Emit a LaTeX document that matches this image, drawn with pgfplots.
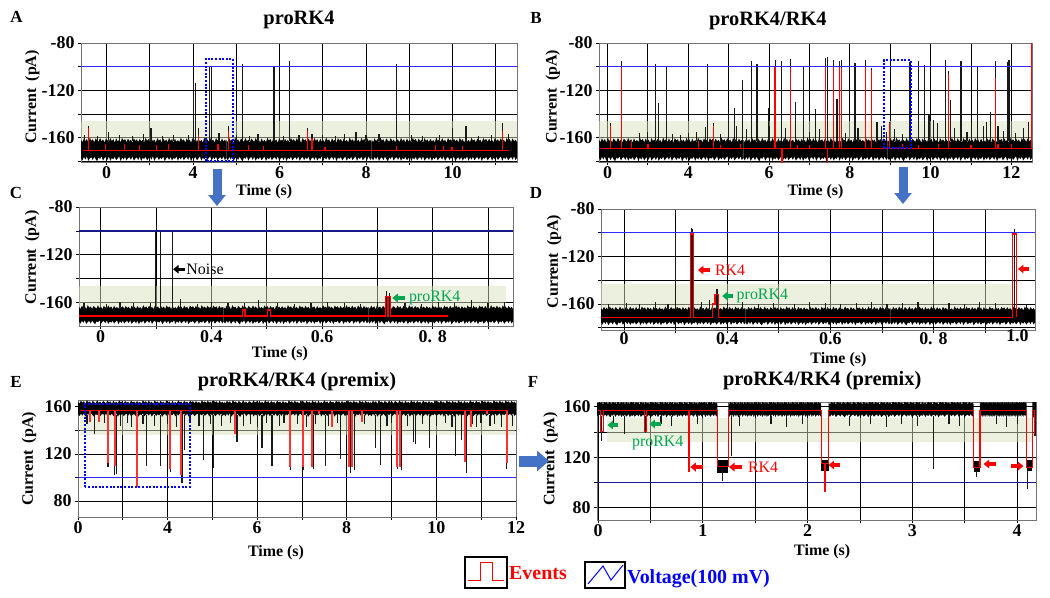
\documentclass[border=0pt]{standalone}
\usepackage{fontspec}
\setmainfont{Liberation Serif}
\usepackage{pgfplots}
\pgfplotsset{compat=1.18}
\usepackage{pgfplotstable}
\usetikzlibrary{arrows.meta}

\definecolor{evred}{RGB}{255,0,0}
\definecolor{vblue}{RGB}{45,45,255}
\definecolor{vnavy}{RGB}{25,25,140}
\definecolor{gband}{RGB}{215,227,189}
\definecolor{agreen}{RGB}{0,166,80}
\definecolor{arrblue}{RGB}{68,114,196}

% envelope of the baseline noise: upper edge left->right, then lower edge right->left
\pgfplotstableread{
i d
0 .82
1 .61
2 .95
3 .70
4 .88
5 .57
6 1.0
7 .73
8 .86
9 .60
10 .93
11 .76
12 .65
13 .98
14 .69
15 .84
16 .59
17 .91
18 .78
19 .64
20 .97
21 .71
22 .87
23 .58
24 .94
25 .67
26 .81
27 .62
28 .99
29 .74
30 .89
31 .60
32 .92
33 .70
34 .83
35 .56
36 .96
37 .72
38 .85
39 .63
40 .90
41 .68
42 .80
43 .59
44 1.0
45 .73
46 .88
47 .64
48 .95
49 .70
50 .82
51 .57
52 .97
53 .75
54 .86
55 .61
56 .93
57 .69
58 .84
59 .60
60 .98
61 .72
62 .87
63 .58
64 .91
65 .66
66 .79
67 .62
68 .99
69 .74
70 .85
71 .59
72 .94
73 .71
74 .83
75 .57
76 .96
77 .76
78 .89
79 .63
80 .92
81 .68
82 .81
83 .60
84 1.0
85 .73
86 .86
87 .65
88 .95
89 .70
90 .84
91 .58
92 .97
93 .74
94 .88
95 .62
96 .93
97 .69
98 .82
99 .61
99 -.70
98 -.90
97 -.57
96 -.86
95 -.64
94 -.74
93 -.93
92 -.61
91 -.81
90 -.66
89 -.97
88 -.58
87 -.72
86 -.89
85 -.62
84 -.83
83 -.69
82 -.95
81 -.59
80 -.75
79 -.92
78 -.63
77 -.78
76 -.70
75 -.99
74 -.60
73 -.87
72 -.64
71 -.73
70 -.91
69 -.61
68 -.85
67 -.67
66 -.96
65 -.58
64 -.80
63 -.71
62 -.94
61 -.62
60 -.88
59 -.65
58 -.76
57 -1.0
56 -.59
55 -.82
54 -.68
53 -.90
52 -.63
51 -.72
50 -.97
49 -.57
48 -.86
47 -.64
46 -.74
45 -.93
44 -.60
43 -.81
42 -.70
41 -.98
40 -.61
39 -.89
38 -.66
37 -.77
36 -.95
35 -.58
34 -.87
33 -.65
32 -.73
31 -.92
30 -.62
29 -.84
28 -.69
27 -.99
26 -.59
25 -.75
24 -.91
23 -.63
22 -.83
21 -.71
20 -.96
19 -.60
18 -.88
17 -.64
16 -.72
15 -.94
14 -.57
13 -.79
12 -.68
11 -1.0
10 -.82
9 -.61
8 -.90
7 -.66
6 -.74
5 -.97
4 -.58
3 -.85
2 -.62
1 -.93
0 -.70
}\noise

\pgfplotsset{
  panel/.style={
    scale only axis, clip=true, anchor=north west,
    axis line style={draw=black!55, line width=1bp},
    grid=major, grid style={black, line width=0.8bp},
    tick align=outside, tick pos=left, major tick length=3bp,
    tick style={black, line width=0.8bp},
    tick label style={font=\bfseries\fontsize{18}{18}\selectfont},
    xticklabel style={yshift=1.5bp},
    label style={font=\bfseries\fontsize{16}{16}\selectfont},
    title style={font=\bfseries\fontsize{20.5}{20.5}\selectfont},
    ylabel={Current\hspace{0.45em}(pA)},
    xlabel={Time\ (s)},
  },
  noiseband/.style={fill=black, draw=none, forget plot},
  spk/.style={black!90, line width=1.2bp, mark=none, forget plot},
  spkred/.style={evred, line width=1.3bp, mark=none, forget plot},
}
\tikzset{fatarrow/.style={line width=3.2bp, -{Triangle[width=8.5bp,length=5.5bp]}}}

\begin{document}
\begin{tikzpicture}
\path[use as bounding box] (0,0) rectangle (1050bp,-598bp);

% ================= A =================
\begin{axis}[panel, at={(81bp,-43bp)}, width=436bp, height=119bp,
  xmin=-0.59, xmax=9.49, ymin=-180.6, ymax=-80,
  xtick={0,...,9}, xticklabels={0,,4,,6,,8,,10,},
  ytick={-180,-160,...,-80}, yticklabels={,-160,,-120,,-80},
  title={proRK4}, title style={at={(axis description cs:0.5,1.109)}, anchor=base},
  xlabel style={at={(axis description cs:0.42,-0.28)}, anchor=base},
  ylabel style={at={(axis description cs:-0.112,0.546)}, anchor=center}]
\addplot[fill=gband, fill opacity=0.5, draw=none] coordinates {(-0.59,-165)(9.49,-165)(9.49,-145.6)(-0.59,-145.6)};
\addplot[noiseband] table[x expr=-0.59+\thisrow{i}*0.033939, y expr=-170+10*\thisrow{d}] {\noise};
\addplot[noiseband] table[x expr=2.77+\thisrow{i}*0.033939, y expr=-170+10*\thisrow{d}] {\noise};
\addplot[noiseband] table[x expr=6.13+\thisrow{i}*0.033939, y expr=-170+10*\thisrow{d}] {\noise};
\addplot[spk, quiver={u=0, v={\thisrow{p}+163}}] table[x=x, y expr=-163] {
x p
-0.41 -150
-0.5 -158
-0.2 -159
0.04 -155
0.3 -158
0.6 -159
0.85 -157
1.03 -152
1.3 -159
1.55 -158
1.89 -158
2.01 -111
2.06 -114
2.13 -152
2.38 -100
2.42 -100
2.6 -156
2.82 -150
3.0 -158
3.14 -98
3.3 -159
3.5 -157
3.87 -100
4.1 -159
4.23 -95
4.45 -158
4.65 -152
4.75 -157
5.0 -158
5.3 -159
5.5 -157
5.77 -155
6.0 -158
6.3 -157
6.70 -98
7.05 -158
7.3 -159
7.7 -158
8.00 -152
8.31 -150
8.6 -159
8.9 -158
9.15 -148
9.3 -157
};
\addplot[vblue, line width=1bp] coordinates {(-0.59,-100)(9.49,-100)};
\addplot[evred, line width=1bp] coordinates {(-0.55,-170.5)(9.30,-170.5)};
\addplot[spkred, quiver={u=0, v={\thisrow{p}+170.5}}] table[x=x, y expr=-170.5] {
x p
-0.41 -152
-0.02 -165
0.42 -165
0.77 -166
1.16 -166
1.43 -165
2.12 -158
2.58 -165
2.82 -154
3.28 -166
3.63 -167
4.65 -154
4.75 -160
5.05 -168
6.71 -167
7.60 -166
7.79 -167
7.99 -168
8.23 -167
9.15 -154
};
\addplot[blue, line width=2bp, dash pattern=on 2bp off 1.6bp] coordinates {(2.29,-179.9)(2.29,-93.6)(2.92,-93.6)(2.92,-179.9)(2.29,-179.9)};
\end{axis}

% ================= B =================
\begin{axis}[panel, at={(599bp,-43bp)}, width=433bp, height=119bp,
  xmin=-0.21, xmax=10.51, ymin=-180.6, ymax=-80,
  xtick={0,...,10}, xticklabels={0,,4,,6,,8,,10,,12},
  ytick={-180,-160,...,-80}, yticklabels={,-160,,-120,,-80},
  title={proRK4/RK4}, title style={at={(axis description cs:0.39,1.1)}, anchor=base},
  xlabel style={at={(axis description cs:0.50,-0.28)}, anchor=base},
  ylabel style={at={(axis description cs:-0.107,0.549)}, anchor=center}]
\addplot[fill=gband, fill opacity=0.5, draw=none] coordinates {(-0.21,-165)(10.51,-165)(10.51,-145.6)(-0.21,-145.6)};
\addplot[noiseband] table[x expr=-0.21+\thisrow{i}*0.036094, y expr=-170+10*\thisrow{d}] {\noise};
\addplot[noiseband] table[x expr=3.3633+\thisrow{i}*0.036094, y expr=-170+10*\thisrow{d}] {\noise};
\addplot[noiseband] table[x expr=6.9367+\thisrow{i}*0.036094, y expr=-170+10*\thisrow{d}] {\noise};
\addplot[spk, quiver={u=0, v={\thisrow{p}+163}}] table[x=x, y expr=-163] {
x p
0.07 -148
0.34 -95
0.8 -156
1.0 -155
1.19 -97.5
1.26 -130.6
1.46 -100
1.6 -157
1.8 -158
2.0 -156
2.2 -155
2.42 -150.6
2.47 -97.5
2.62 -148
2.8 -157
2.99 -138
3.14 -134.6
3.2 -150
3.35 -111
3.45 -153
3.56 -95.6
3.70 -98
3.98 -135
4.0 -150
4.15 -94
4.30 -95.6
4.4 -152
4.53 -93.6
4.66 -129.5
4.85 -99.8
5.0 -155
5.14 -136
5.25 -153
5.39 -93
5.45 -92
5.59 -94
5.68 -127
5.74 -95
5.80 -94
5.9 -156
6.13 -97
6.2 -152
6.38 -94
6.53 -101
6.67 -147
6.78 -150
6.9 -155
6.99 -147
7.1 -153
7.3 -157
7.49 -96
7.70 -95
7.85 -99
7.96 -140
8.07 -145
8.18 -148
8.36 -94
8.44 -104
8.49 -128
8.6 -152
8.75 -95
8.9 -155
9.02 -146
9.17 -100
9.3 -150
9.39 -147
9.49 -138
9.61 -95
9.67 -150
9.8 -154
9.90 -96
9.94 -94
10.1 -156
10.3 -152
10.42 -147
};
\addplot[vblue, line width=1bp] coordinates {(-0.21,-100)(10.51,-100)};
\addplot[evred, line width=1bp] coordinates {(-0.2,-169)(10.5,-169)};
\addplot[spkred, quiver={u=0, v={\thisrow{p}+169}}] table[x=x, y expr=-169] {
x p
0.07 -150
0.34 -100
0.59 -163
1.0 -165
2.25 -163
2.62 -150
2.8 -166
3.3 -165
4.15 -100
4.32 -182
4.53 -100
4.7 -166
5.0 -166
5.39 -100
5.45 -182
5.59 -100
5.74 -100
5.80 -100
6.38 -100
6.53 -103
6.99 -148
7.3 -165
7.7 -166
8.2 -165
8.44 -106
9.0 -166
9.61 -110
9.67 -165
10.0 -165
10.50 -80
};
\addplot[blue, line width=2bp, dash pattern=on 2bp off 1.6bp] coordinates {(6.85,-169)(6.85,-94.7)(7.51,-94.7)(7.51,-169)(6.85,-169)};
\end{axis}

% ================= C =================
\begin{axis}[panel, at={(79bp,-207bp)}, width=434bp, height=119bp,
  xmin=-0.39, xmax=7.45, ymin=-179.4, ymax=-80,
  xtick={0,...,7}, xticklabels={0,,0.4,,0.6,,0. 8,},
  ytick={-180,-160,...,-80}, yticklabels={,-160,,-120,,-80},
  xlabel style={at={(axis description cs:0.463,-0.265)}, anchor=base},
  ylabel style={at={(axis description cs:-0.108,0.576)}, anchor=center}]
\addplot[fill=gband, fill opacity=0.5, draw=none] coordinates {(-0.39,-165)(7.33,-165)(7.33,-146)(-0.39,-146)};
\addplot[noiseband] table[x expr=-0.39+\thisrow{i}*0.026397, y expr=-170+8*\thisrow{d}] {\noise};
\addplot[noiseband] table[x expr=2.2233+\thisrow{i}*0.026397, y expr=-170+8*\thisrow{d}] {\noise};
\addplot[noiseband] table[x expr=4.8367+\thisrow{i}*0.026397, y expr=-170+8*\thisrow{d}] {\noise};
\addplot[spk, quiver={u=0, v={\thisrow{p}+165}}] table[x=x, y expr=-165] {
x p
-0.3 -160
0.1 -161
0.35 -159
0.6 -160
0.9 -160
0.99 -100
1.08 -100
1.30 -100
1.45 -157
1.75 -161
2.0 -159
2.3 -160
2.6 -160
2.85 -158
3.2 -160
3.5 -161
3.8 -160
4.1 -159
4.4 -160
4.7 -161
5.0 -159
5.17 -150
5.22 -152
5.5 -160
5.8 -161
6.1 -159
6.4 -160
6.7 -158
7.0 -160
7.3 -159
};
\addplot[vnavy, line width=1.2bp] coordinates {(-0.39,-100)(7.45,-100)};
\addplot[evred, line width=1.2bp] coordinates {(-0.39,-171)(2.57,-171)(2.57,-166)(2.61,-166)(2.61,-171)(3.02,-171)(3.02,-166)(3.07,-166)(3.07,-171)(5.15,-171)(5.15,-155)(5.18,-155)(5.18,-171)(5.20,-171)(5.20,-155)(5.24,-155)(5.24,-171)(6.28,-171)};
\draw[fatarrow, black] (axis cs:1.52,-132) -- (axis cs:1.31,-132);
\node[anchor=west, font=\fontsize{16}{16}\selectfont, inner sep=1bp] at (axis cs:1.53,-132) {Noise};
\draw[fatarrow, agreen] (axis cs:5.49,-156) -- (axis cs:5.27,-156);
\node[anchor=west, font=\fontsize{16}{16}\selectfont, text=agreen, inner sep=1bp] at (axis cs:5.55,-156) {proRK4};
\end{axis}

% ================= D =================
\begin{axis}[panel, at={(601bp,-209bp)}, width=434bp, height=121bp,
  xmin=-0.45, xmax=7.97, ymin=-181.9, ymax=-80,
  xtick={0,...,7}, xticklabels={0,,0.4,,0.6,,0. 8,},
  xticklabel style={yshift=2.5bp},
  extra x ticks={7.63}, extra x tick labels={1.0}, extra x tick style={grid=none, major tick length=0bp},
  ytick={-180,-160,...,-80}, yticklabels={,-160,,-120,,-80},
  xlabel style={at={(axis description cs:0.547,-0.275)}, anchor=base},
  ylabel style={at={(axis description cs:-0.108,0.566)}, anchor=center}]
\addplot[fill=gband, fill opacity=0.5, draw=none] coordinates {(-0.45,-165)(7.55,-165)(7.55,-143.5)(-0.45,-143.5)};
\addplot[noiseband] table[x expr=-0.45+\thisrow{i}*0.028350, y expr=-170+8*\thisrow{d}] {\noise};
\addplot[noiseband] table[x expr=2.3567+\thisrow{i}*0.028350, y expr=-170+8*\thisrow{d}] {\noise};
\addplot[noiseband] table[x expr=5.1633+\thisrow{i}*0.028350, y expr=-170+8*\thisrow{d}] {\noise};
\addplot[spk, quiver={u=0, v={\thisrow{p}+165}}] table[x=x, y expr=-165] {
x p
-0.3 -160
0.05 -159
0.3 -160
0.6 -158
0.85 -160
1.0 -98.5
1.31 -96
1.33 -97
1.5 -158
1.65 -157
1.80 -147
2.0 -159
2.3 -158
2.6 -160
2.9 -159
3.3 -160
3.6 -158
3.9 -159
4.2 -160
4.5 -159
4.8 -158
5.1 -160
5.4 -159
5.7 -158
6.0 -160
6.3 -159
6.6 -160
6.9 -158
7.2 -159
7.57 -97
7.8 -160
};
\addplot[vblue, line width=1bp] coordinates {(-0.45,-100)(7.97,-100)};
\addplot[evred, line width=1.2bp] coordinates {(-0.45,-171.3)(1.28,-171.3)(1.28,-101)(1.345,-101)(1.345,-171.3)(1.72,-171.3)(1.72,-160)(1.76,-160)(1.76,-152)(1.83,-152)(1.83,-171.3)(7.53,-171.3)(7.53,-101)(7.61,-101)(7.61,-171.3)};
\draw[fatarrow, evred] (axis cs:1.67,-131.4) -- (axis cs:1.43,-131.4);
\node[anchor=west, font=\fontsize{16}{16}\selectfont, text=evred, inner sep=1bp] at (axis cs:1.74,-131.4) {RK4};
\draw[fatarrow, agreen] (axis cs:2.11,-153.3) -- (axis cs:1.90,-153.3);
\node[anchor=west, font=\fontsize{16}{16}\selectfont, text=agreen, inner sep=1bp] at (axis cs:2.16,-153.3) {proRK4};
\draw[fatarrow, evred] (axis cs:7.85,-130.5) -- (axis cs:7.64,-130.5);
\end{axis}

% ================= E =================
\begin{axis}[panel, at={(78bp,-400bp)}, width=438bp, height=117bp,
  xmin=0, xmax=9.78, ymin=66.5, ymax=165.7,
  xtick={0,...,9}, xticklabels={0,,4,,6,,8,,10,},
  extra x ticks={9.78}, extra x tick labels={12}, extra x tick style={grid=none},
  ytick={80,100,...,160}, yticklabels={80,,120,,160},
  title={proRK4/RK4 (premix)}, title style={at={(axis description cs:0.5,1.068)}, anchor=base},
  xlabel style={at={(axis description cs:0.452,-0.34)}, anchor=base},
  ylabel style={at={(axis description cs:-0.112,0.496)}, anchor=center}]
\addplot[fill=gband, fill opacity=0.5, draw=none] coordinates {(0.05,136)(9.75,136)(9.75,155)(0.05,155)};
\addplot[noiseband] table[x expr=\thisrow{i}*0.032929, y expr=158.5+7*\thisrow{d}] {\noise};
\addplot[noiseband] table[x expr=3.26+\thisrow{i}*0.032929, y expr=158.5+7*\thisrow{d}] {\noise};
\addplot[noiseband] table[x expr=6.52+\thisrow{i}*0.032929, y expr=158.5+7*\thisrow{d}] {\noise};
\addplot[spk, quiver={u=0, v={\thisrow{p}-153}}] table[x=x, y expr=153] {
x p
0.2 145
0.36 137
0.6 146
0.67 109
0.82 102
0.86 103
0.95 144
1.1 146
1.2 143
1.33 108
1.45 145
1.53 110
1.7 144
1.84 110
2.0 145
2.06 105
2.2 143
2.32 95
2.37 123
2.5 146
2.7 144
2.81 115
2.95 145
3.03 108
3.2 144
3.4 146
3.55 130
3.7 144
3.85 145
4.0 143
4.11 125
4.2 146
4.33 110
4.5 144
4.6 146
4.74 106
4.9 145
5.04 106
5.1 143
5.26 107
5.3 145
5.52 110
5.6 144
5.8 146
5.86 116
6.08 104
6.18 106
6.4 145
6.65 125
6.75 111
6.9 144
7.0 146
7.14 107
7.23 106
7.35 144
7.49 130
7.54 128
7.7 145
7.85 125
8.0 144
8.2 146
8.35 143
8.42 118
8.57 132
8.68 104
8.8 145
8.9 143
9.0 146
9.2 144
9.3 145
9.45 143
9.57 107
9.7 144
};
\addplot[vblue, line width=1bp] coordinates {(0,100)(9.78,100)};
\addplot[evred, line width=1bp] coordinates {(0.05,156.5)(9.6,156.5)};
\addplot[spkred, evred!80, line width=2bp, quiver={u=0, v={\thisrow{p}-156.5}}] table[x=x, y expr=156.5] {
x p
0.26 147
0.48 147
0.67 112
0.83 110
1.32 92
2.06 107
2.31 102
3.51 137
4.74 108.5
5.02 108.5
5.22 108.5
5.39 154
5.67 143
6.04 108.5
6.12 109
6.34 147
7.12 108.5
7.20 108.5
8.65 113
8.77 143
9.13 154
9.58 112.5
};
\addplot[blue, line width=2bp, dash pattern=on 2bp off 1.6bp] coordinates {(0.15,91.7)(0.15,162.3)(2.49,162.3)(2.49,91.7)(0.15,91.7)};
\end{axis}

% ================= F =================
\begin{axis}[panel, at={(597bp,-402bp)}, width=439bp, height=118bp,
  xmin=-0.01, xmax=4.18, ymin=70.3, ymax=163.7,
  xtick={0,0.5,...,4}, xticklabels={0,,1,,2,,3,,4},
  ytick={80,100,...,160}, yticklabels={80,,120,,160},
  title={proRK4/RK4 (premix)}, title style={at={(axis description cs:0.513,1.085)}, anchor=base},
  xlabel style={at={(axis description cs:0.513,-0.297)}, anchor=base},
  ylabel style={at={(axis description cs:-0.106,0.517)}, anchor=center}]
\addplot[fill=gband, fill opacity=0.5, draw=none] coordinates {(0.09,132.3)(4.15,132.3)(4.15,150.8)(0.09,150.8)};
\addplot[noiseband] table[x expr=-0.01+\thisrow{i}*0.011616, y expr=158+6.5*\thisrow{d}] {\noise};
\addplot[noiseband] table[x expr=1.245+\thisrow{i}*0.008939, y expr=158+6.5*\thisrow{d}] {\noise};
\addplot[noiseband] table[x expr=2.2+\thisrow{i}*0.013990, y expr=158+6.5*\thisrow{d}] {\noise};
\addplot[noiseband] table[x expr=3.645+\thisrow{i}*0.004495, y expr=158+6.5*\thisrow{d}] {\noise};
\addplot[noiseband] table[x expr=4.145+\thisrow{i}*0.000354, y expr=158+6.5*\thisrow{d}] {\noise};
\addplot[fill=black, draw=none] coordinates {(1.14,107.5)(1.245,107.5)(1.245,118)(1.14,118)};
\addplot[fill=black, draw=none] coordinates {(2.13,109)(2.2,109)(2.2,118)(2.13,118)};
\addplot[fill=black, draw=none] coordinates {(3.585,108)(3.645,108)(3.645,117)(3.585,117)};
\addplot[fill=black, draw=none] coordinates {(4.09,109)(4.145,109)(4.145,118)(4.09,118)};
\addplot[spk, quiver={u=0, v={\thisrow{p}-153}}] table[x=x, y expr=153] {
x p
0.035 133
0.15 146
0.25 138
0.45 139
0.6 146
0.7 145
0.95 146
1.27 121
1.35 145
1.65 146
1.8 144
1.95 146
2.4 145
2.6 146
2.75 144
2.9 146
3.05 145
3.2 111
3.35 146
3.45 145
3.8 146
3.9 144
4.0 146
4.17 137
};
\addplot[spk, quiver={u=0, v={\thisrow{p}-110}}] table[x=x, y expr=110] {
x p
1.19 101
2.16 105
3.61 104
4.1 95
};
\addplot[vnavy, line width=1.2bp] coordinates {(-0.01,100)(4.18,100)};
\addplot[evred, line width=1.1bp] coordinates {(0.0,157)(0.02,157)(0.02,140)(0.05,140)(0.05,157)(0.44,157)(0.44,140)(0.46,140)(0.46,157)(0.86,157)(0.86,109)(0.875,109)(0.875,157)(1.14,157)(1.14,113)(1.245,113)(1.245,157)(2.13,157)(2.13,115)(2.165,115)(2.165,93)(2.175,93)(2.175,115)(2.2,115)(2.2,157)(3.585,157)(3.585,112)(3.645,112)(3.645,157)(4.09,157)(4.09,112)(4.145,112)(4.145,157)(4.165,157)(4.165,138)};
\draw[fatarrow, agreen] (axis cs:0.19,145.5) -- (axis cs:0.09,145.5);
\draw[fatarrow, agreen] (axis cs:0.60,146.3) -- (axis cs:0.49,146.3);
\node[font=\fontsize{16}{16}\selectfont, text=agreen, inner sep=1bp] at (axis cs:0.57,131.2) {proRK4};
\draw[fatarrow, evred] (axis cs:1.00,112.2) -- (axis cs:0.88,112.2);
\draw[fatarrow, evred] (axis cs:1.37,112.2) -- (axis cs:1.25,112.2);
\node[anchor=west, font=\fontsize{16}{16}\selectfont, text=evred, inner sep=1bp] at (axis cs:1.42,112.2) {RK4};
\draw[fatarrow, evred] (axis cs:2.31,113.8) -- (axis cs:2.20,113.8);
\draw[fatarrow, evred] (axis cs:3.80,114.6) -- (axis cs:3.68,114.6);
\draw[fatarrow, evred] (axis cs:3.94,113) -- (axis cs:4.06,113);
\end{axis}

% panel letters
\begin{scope}[every node/.style={font=\bfseries\fontsize{17}{17}\selectfont, inner sep=0pt}]
\node at (16.5bp,-17bp) {A};
\node at (536bp,-17.5bp) {B};
\node at (16bp,-192.5bp) {C};
\node at (536bp,-193bp) {D};
\node at (16bp,-382bp) {E};
\node at (533bp,-382bp) {F};
\end{scope}

% big arrows
\draw[arrblue, line width=9bp, -{Triangle[width=17bp,length=11bp]}] (217bp,-169bp) -- (217bp,-206bp);
\draw[arrblue, line width=9bp, -{Triangle[width=17bp,length=11bp]}] (903bp,-167bp) -- (903bp,-204bp);
\draw[arrblue, line width=11bp, -{Triangle[width=20bp,length=12bp]}] (519bp,-461bp) -- (549bp,-461bp);

% legend
\draw[black, line width=1.2bp] (465bp,-557bp) rectangle (507bp,-588bp);
\draw[evred, line width=1bp] (468bp,-580bp) -- (480bp,-580bp) -- (480bp,-562bp) -- (492bp,-562bp) -- (492bp,-580bp) -- (504bp,-580bp);
\node[anchor=base west, text=evred, font=\bfseries\fontsize{20}{20}\selectfont, inner sep=0pt] at (509bp,-579bp) {Events};
\draw[black, line width=1.2bp] (585bp,-562bp) rectangle (625bp,-588bp);
\draw[blue, line width=1bp] (588bp,-584bp) -- (603bp,-566bp) -- (611bp,-580bp) -- (623bp,-565bp);
\node[anchor=base west, text=blue, font=\bfseries\fontsize{20}{20}\selectfont, inner sep=0pt] at (627bp,-583bp) {Voltage(100 mV)};
\end{tikzpicture}
\end{document}
